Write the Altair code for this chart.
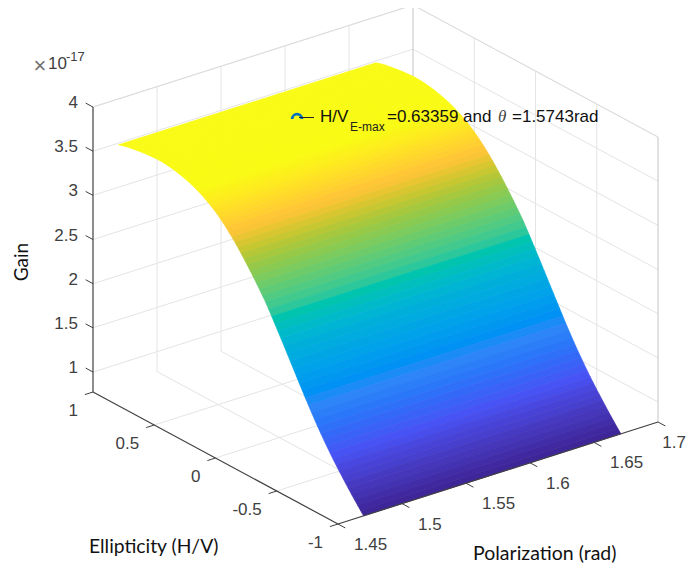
import altair as alt
import pandas as pd

# ---- data ----
ell = [-1 + i * 0.025 for i in range(81)]
gain = [0.774, 0.816, 0.859, 0.903, 0.947, 0.992, 1.038, 1.085, 1.133, 1.182,
        1.232, 1.284, 1.337, 1.392, 1.448, 1.506, 1.566, 1.627, 1.689, 1.753,
        1.818, 1.884, 1.950, 2.016, 2.082, 2.148, 2.214, 2.279, 2.344, 2.408,
        2.472, 2.535, 2.596, 2.650, 2.703, 2.755, 2.806, 2.856, 2.905, 2.952,
        2.998, 3.043, 3.086, 3.127, 3.166, 3.203, 3.238, 3.271, 3.302, 3.330,
        3.356, 3.380, 3.402, 3.422, 3.440, 3.457, 3.472, 3.486, 3.498, 3.509,
        3.518, 3.527, 3.534, 3.540, 3.546, 3.550, 3.552, 3.553, 3.552, 3.550,
        3.547, 3.543, 3.539, 3.534, 3.529, 3.523, 3.517, 3.510, 3.502, 3.492,
        3.480]
theta_lo, theta_hi = 1.47, 1.671
theta_ticks = [1.45, 1.5, 1.55, 1.6, 1.65, 1.7]
theta_labels = ["1.45", "1.5", "1.55", "1.6", "1.65", "1.7"]
ell_ticks = [1, 0.5, 0, -0.5, -1]
ell_labels = ["1", "0.5", "0", "-0.5", "-1"]
z_ticks = [1, 1.5, 2, 2.5, 3, 3.5, 4]
z_labels = ["1", "1.5", "2", "2.5", "3", "3.5", "4"]
z_min, z_max = 0.774, 4.0
parula = ["#3e2699", "#4852f4", "#2e87f7", "#12b1d6", "#37c897", "#abc739", "#fec338", "#f9fb14"]
color_stops = [0.80, 1.25, 1.68, 2.22, 2.52, 2.95, 3.16, 3.45]


# orthographic view of the MATLAB axes box
def proj(t, e, z):
    px = 338 + (t - 1.45) * 1280 - (e + 1) * 122.5
    py = 524 - (t - 1.45) * 408 - (e + 1) * 66 - (z - z_min) * 88.33
    return px, py


sx = alt.Scale(domain=[8, 687], range=[0, 679], nice=False, zero=False)
sy = alt.Scale(domain=[8, 564], range=[0, 556], nice=False, zero=False)
X = alt.X("x:Q", scale=sx, axis=None)
Y = alt.Y("y:Q", scale=sy, axis=None)


def seg(a, b):
    x, y = proj(*a)
    x2, y2 = proj(*b)
    return {"x": x, "y": y, "x2": x2, "y2": y2}


def rules(segs, color, width):
    return alt.Chart(pd.DataFrame(segs)).mark_rule(color=color, strokeWidth=width).encode(
        x=X, y=Y, x2="x2:Q", y2="y2:Q")


def label(t, x, y, size=17, color="#404040", align="left", font="Liberation Sans", **kw):
    return alt.Chart(pd.DataFrame({"x": [x], "y": [y], "t": [t]})).mark_text(
        align=align, baseline="middle", fontSize=size, color=color, font=font, **kw
    ).encode(x=X, y=Y, text="t:N")


inner_t = [t for t in theta_ticks if 1.45 < t < 1.7]
inner_e = [e for e in ell_ticks if -1 < e < 1]

grid = []
for t in inner_t:
    grid.append(seg((t, -1, z_min), (t, 1, z_min)))
    grid.append(seg((t, 1, z_min), (t, 1, z_max)))
for e in inner_e:
    grid.append(seg((1.45, e, z_min), (1.7, e, z_min)))
    grid.append(seg((1.7, e, z_min), (1.7, e, z_max)))
for z in z_ticks:
    grid.append(seg((1.45, 1, z), (1.7, 1, z)))
    grid.append(seg((1.7, 1, z), (1.7, -1, z)))

box = [seg((1.7, 1, z_min), (1.7, 1, z_max)),
       seg((1.7, -1, z_min), (1.7, -1, z_max))]

# surface: one polygon per row of the mesh, far rows first
features = []
for i in range(len(ell) - 1, 0, -1):
    e1, z1, e0, z0 = ell[i], gain[i], ell[i - 1], gain[i - 1]
    ring = [proj(theta_lo, e1, z1), proj(theta_hi, e1, z1), proj(theta_hi, e0, z0),
            proj(theta_lo, e0, z0), proj(theta_lo, e1, z1)]
    features.append({"type": "Feature",
                     "properties": {"gain": (z0 + z1) / 2},
                     "geometry": {"type": "Polygon", "coordinates": [[list(p) for p in ring]]}})

surf_scale = alt.Scale(domain=color_stops, range=parula, clamp=True)
surface = alt.Chart(alt.InlineData(values={"type": "FeatureCollection", "features": features},
                                   format=alt.DataFormat(property="features", type="json"))
                    ).mark_geoshape(strokeWidth=0.7).encode(
    color=alt.Color("properties.gain:Q", legend=None, scale=surf_scale),
    stroke=alt.Stroke("properties.gain:Q", legend=None, scale=surf_scale),
).project(type="identity", scale=1, translate=[-8, -8])

axis_lines = [seg((1.45, 1, z_min), (1.45, 1, z_max)),
              seg((1.45, 1, z_min), (1.45, -1, z_min)),
              seg((1.45, -1, z_min), (1.7, -1, z_min))]
ticks = []
for z in z_ticks:
    ticks.append(seg((1.45, 1, z), (1.45, 1.06, z)))
for e in ell_ticks:
    ticks.append(seg((1.45, e, z_min), (1.4437, e, z_min)))
for t in theta_ticks:
    ticks.append(seg((t, -1, z_min), (t, -1.06, z_min)))

layers = [rules(grid, "#e4e4e4", 1), rules(box, "#c4c4c4", 1),
          rules([seg((1.45, 1, z_max), (1.7, 1, z_max)), seg((1.7, 1, z_max), (1.7, -1, z_max))], "#dcdcdc", 1),
          surface,
          rules(axis_lines, "#404040", 1.2), rules(ticks, "#404040", 1)]

for v, s in zip(z_ticks, z_labels):
    x, y = proj(1.45, 1, v)
    layers.append(label(s, x - 15, y - 4, align="right"))
for v, s in zip(ell_ticks, ell_labels):
    x, y = proj(1.45, v, z_min)
    layers.append(label(s, x - 15, y + 19, align="right"))
for v, s in zip(theta_ticks, theta_labels):
    x, y = proj(v, -1, z_min)
    if s == "1.7":
        layers.append(label(s, 686, y + 21, align="right"))
    else:
        layers.append(label(s, x + 16, y + 21))

# exponent
layers += [label("×", 40, 66, size=22, color="#707070", align="center"),
           label("10", 48, 64, size=17),
           label("-17", 66, 57, size=13)]

# axis titles
layers += [label("Gain", 22, 262, size=19, color="#111111", align="center", font="Lato", angle=270),
           label("Ellipticity (H/V)", 89, 547, size=19.3, color="#111111", font="Lato"),
           label("Polarization (rad)", 473, 554, size=19.5, color="#111111", font="Lato")]

# data tip
marker = alt.Chart(pd.DataFrame({"x": [297], "y": [119]})).mark_arc(
    theta=4.71, theta2=7.85, radius=6.2, radius2=3.4, color="#0072BD").encode(x=X, y=Y)
layers += [marker,
           rules([{"x": 299, "y": 117.5, "x2": 314, "y2": 117.5}], "#222222", 1),
           label("H/V", 320, 117, size=17, color="#111111"),
           label("E-max", 350, 127, size=12, color="#222222"),
           label("=0.63359 and", 387, 117, size=17, color="#111111"),
           label("θ", 498, 117, size=17, color="#444444", font="Liberation Serif", fontStyle="italic"),
           label("=1.5743rad", 512, 117, size=17, color="#111111")]

chart = alt.layer(*layers).properties(
    width=679, height=556, padding=0, autosize=alt.AutoSizeParams(type="none")
).configure_view(stroke=None)

chart.save("out.html", embed_options={"renderer": "svg", "actions": False})
